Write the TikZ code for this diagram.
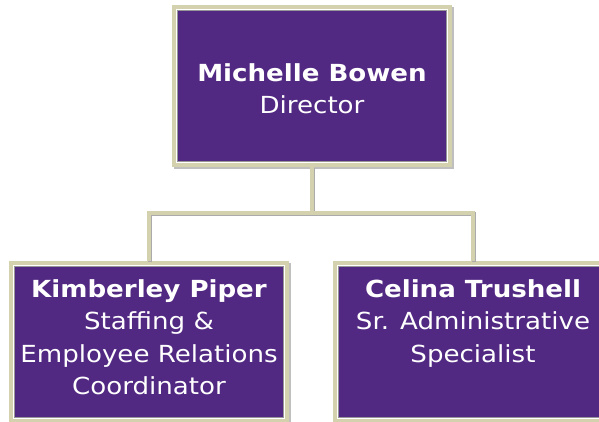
\documentclass[tikz,border=0pt]{standalone}
\usepackage{fontspec}
\setmainfont{DejaVu Sans}[FakeStretch=1.11]
\usetikzlibrary{shadows,calc}
\definecolor{boxpurple}{RGB}{81,40,130}
\definecolor{khaki}{RGB}{212,210,174}
\definecolor{bevel}{RGB}{150,150,150}
\tikzset{
  orgbox/.style={rectangle, inner sep=0pt, minimum width=280pt, minimum height=162pt,
    fill=khaki,
    drop shadow={shadow xshift=2pt, shadow yshift=-2pt, fill=black, opacity=0.25},
    path picture={
      \fill[white] ($(path picture bounding box.south west)+(4pt,4pt)$) rectangle ($(path picture bounding box.north east)+(-4pt,-4pt)$);
      \fill[bevel] ($(path picture bounding box.south west)+(5pt,5pt)$) rectangle ($(path picture bounding box.north east)+(-5pt,-5pt)$);
      \fill[boxpurple] ($(path picture bounding box.south west)+(6pt,6pt)$) rectangle ($(path picture bounding box.north east)+(-6pt,-6pt)$);
    }},
  orgtext/.style={anchor=north, inner sep=0pt, align=center, text=white,
    font={\fontsize{23.5pt}{32.5pt}\selectfont}},
  link/.style={draw=khaki, line width=3.5pt,
    preaction={draw=bevel!80, line width=3.5pt, transform canvas={xshift=1.2pt, yshift=-1.2pt}}}
}
\begin{document}
\begin{tikzpicture}[x=1pt,y=1pt]
\useasboundingbox (0,0) rectangle (599,-422);
\clip (0,0) rectangle (599,-422);
\node[orgbox] (top) at (312,-86) {};
\node[orgbox] (left) at (149,-342) {};
\node[orgbox] (right) at (473,-342) {};
\coordinate (bus) at (312,-213);
\draw[link] (top.south) -- (bus);
\draw[link] (left.north) |- (bus) -| (right.north);
\node[orgtext] (topt) at (312,-63.2) {\textbf{Michelle Bowen}\\Director};
\node[orgtext] (leftt) at (149,-279.2) {\textbf{Kimberley Piper}\\Staffing \&\\Employee Relations\\Coordinator};
\node[orgtext] (rightt) at (473,-279.2) {\textbf{Celina Trushell}\\Sr. Administrative\\Specialist};
\end{tikzpicture}
\end{document}
